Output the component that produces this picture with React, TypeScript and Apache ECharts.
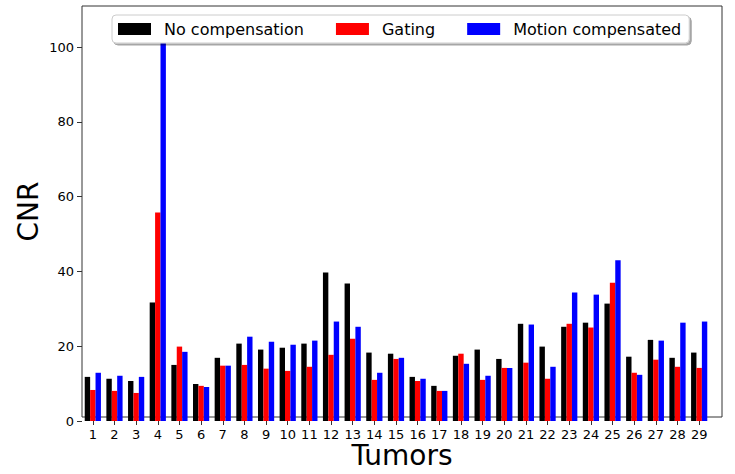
import React, { useEffect, useRef } from "react";
import * as echarts from "echarts";

const categories = ["1","2","3","4","5","6","7","8","9","10","11","12","13","14","15","16","17","18","19","20","21","22","23","24","25","26","27","28","29"];
const noCompensation = [11.8,11.3,10.7,31.7,15.0,9.9,16.9,20.7,19.1,19.6,20.7,39.7,36.8,18.3,18.0,11.8,9.4,17.45,19.1,16.6,26.0,19.9,25.2,26.3,31.4,17.2,21.7,16.9,18.3];
const gating = [8.3,8.05,7.5,55.8,19.9,9.4,14.8,15.0,14.0,13.4,14.5,17.7,22.0,11.0,16.6,10.7,8.05,18.0,11.0,14.2,15.6,11.3,26.0,25.0,37.0,12.9,16.4,14.5,14.2];
const motionCompensated = [12.9,12.1,11.8,105.7,18.5,9.1,14.8,22.55,21.2,20.4,21.5,26.6,25.2,12.9,16.9,11.3,8.05,15.3,12.1,14.2,25.8,14.5,34.4,33.8,43.0,12.35,21.5,26.3,26.6];
const yTicks = [0, 20, 40, 60, 80, 100];
const seriesNames = ["No compensation", "Gating", "Motion compensated"];
const seriesColors = ["#000000", "#ff0000", "#0000ff"];

const FONT = "DejaVu Sans";

export default function App() {
  const ref = useRef<HTMLDivElement>(null);
  useEffect(() => {
    if (!ref.current) return;
    const chart = echarts.init(ref.current, null, { renderer: "svg" });
    const data = [noCompensation, gating, motionCompensated];
    chart.setOption({
      animation: false,
      backgroundColor: "#ffffff",
      textStyle: { fontFamily: FONT },
      legend: {
        left: 112,
        top: 15,
        padding: [5, 8, 5, 6],
        itemWidth: 33,
        itemHeight: 12,
        itemGap: 32,
        icon: "rect",
        backgroundColor: "#ffffff",
        borderColor: "#cccccc",
        borderWidth: 1,
        borderRadius: 4,
        shadowColor: "rgba(0,0,0,0.35)",
        shadowBlur: 0,
        shadowOffsetX: 2,
        shadowOffsetY: 2,
        data: seriesNames,
        textStyle: {
          fontFamily: FONT,
          fontSize: 16,
          color: "#000000",
          lineHeight: 18,
          padding: [0, 0, 0, 8],
        },
      },
      grid: [
        { left: 82, width: 628, top: 6, bottom: 53 },
        {
          left: 82,
          right: 13,
          top: 6,
          bottom: 53,
          show: true,
          borderColor: "#333333",
          borderWidth: 1,
          backgroundColor: "transparent",
        },
      ],
      xAxis: [
        {
          type: "category",
          gridIndex: 0,
          data: categories,
          axisLine: { show: false },
          axisTick: { show: true, alignWithLabel: true, length: 4, lineStyle: { color: "#333333" } },
          axisLabel: { fontFamily: FONT, fontSize: 13, lineHeight: 13, color: "#000000", margin: 7, interval: 0 },
          splitLine: { show: false },
        },
        {
          type: "value",
          gridIndex: 1,
          name: "Tumors",
          nameLocation: "middle",
          nameGap: 26,
          nameTextStyle: { fontFamily: FONT, fontSize: 28, lineHeight: 24, color: "#000000" },
          axisLine: { show: false },
          axisTick: { show: false },
          axisLabel: { show: false },
          splitLine: { show: false },
        },
      ],
      yAxis: [
        {
          type: "value",
          gridIndex: 0,
          min: 0,
          max: 111,
          interval: 20,
          axisLine: { show: false },
          axisTick: { show: true, length: 5, customValues: yTicks, lineStyle: { color: "#333333" } },
          axisLabel: {
            fontFamily: FONT,
            fontSize: 13,
            color: "#000000",
            margin: 8,
            customValues: yTicks,
            formatter: (v: number) => (v % 20 === 0 ? String(v) : ""),
          },
          splitLine: { show: false },
        },
        {
          type: "value",
          gridIndex: 1,
          name: "CNR",
          nameLocation: "middle",
          nameGap: 40,
          nameTextStyle: { fontFamily: FONT, fontSize: 28, color: "#000000" },
          axisLine: { show: false },
          axisTick: { show: false },
          axisLabel: { show: false },
          splitLine: { show: false },
        },
      ],
      series: seriesNames.map((name, i) => ({
        name,
        type: "bar",
        xAxisIndex: 0,
        yAxisIndex: 0,
        data: data[i],
        barWidth: 5.4,
        barGap: "0%",
        itemStyle: { color: seriesColors[i] },
        emphasis: { disabled: true },
      })),
    });
    return () => chart.dispose();
  }, []);
  return (
    <div
      ref={ref}
      style={{ position: "fixed", left: 0, top: 0, width: 735, height: 474, background: "#ffffff" }}
    />
  );
}
